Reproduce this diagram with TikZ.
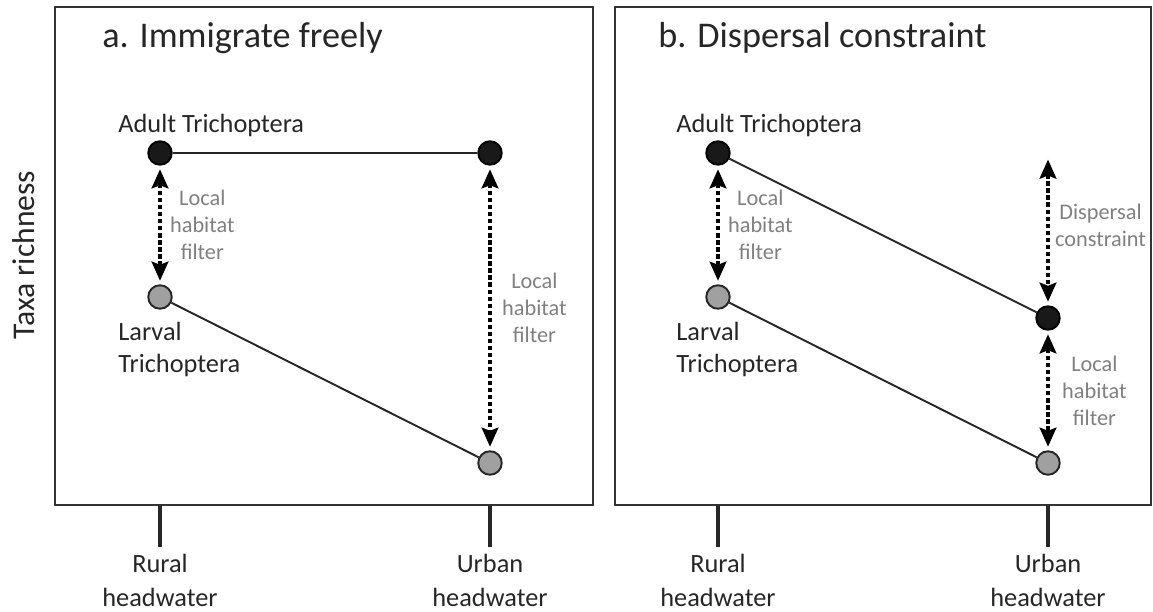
\documentclass[tikz,border=0pt]{standalone}
\usepackage{fontspec}
\setmainfont{Carlito}
\usetikzlibrary{arrows.meta}
\usepackage{xcolor}
\definecolor{labelgray}{HTML}{808080}
\definecolor{dotgray}{HTML}{A0A0A0}

\begin{document}
\begin{tikzpicture}[x=0.02cm, y=-0.02cm,
  % Node Styles
  adultdot/.style={circle, draw=black, line width=1.1pt, fill=black!90, minimum size=0.47cm, inner sep=0pt},
  larvadot/.style={circle, draw=black!85, line width=1.1pt, fill=dotgray, minimum size=0.47cm, inner sep=0pt},
  titletext/.style={anchor=base west, inner sep=0pt, text=black!85, font=\fontsize{20.6}{24}\selectfont},
  grouptext/.style={inner sep=0pt, align=left, text=black!85, font=\fontsize{15}{18}\selectfont},
  filtertext/.style={inner sep=0pt, align=center, text=labelgray, font=\fontsize{12.7}{15.3}\selectfont},
  sitetext/.style={anchor=north, inner sep=0pt, align=center, text=black!85, font=\fontsize{15}{19}\selectfont},
  % Arrow Styles
  solidline/.style={line width=1.1pt, black!85},
  dottedarrow/.style={{Stealth[length=0.38cm, width=0.33cm, inset=0.06cm]}-{Stealth[length=0.38cm, width=0.33cm, inset=0.06cm]}, line width=2.5pt, dash pattern=on 2.4pt off 1.6pt, shorten <=2pt, shorten >=2pt},
  framebox/.style={draw=black!80, line width=1.1pt},
  sitetick/.style={line width=2.2pt, black!85}
]
\useasboundingbox (0,0) rectangle (1153,612);

% Frames and axis
\draw[framebox] (55,7) rectangle (593,505);
\draw[framebox] (615,7) rectangle (1151,505);
\node[rotate=90, inner sep=0pt, text=black!85, font=\fontsize{18}{20}\selectfont] (yaxis) at (24,255) {Taxa richness};

% Panel: a. Immigrate freely

\node[titletext] (title_a) at (102,48) {a. Immigrate freely};
\node[adultdot] (adultR_a) at (160,153) {};
\node[adultdot] (adultU_a) at (490,153) {};
\node[larvadot] (larvaR_a) at (160,297) {};
\node[larvadot] (larvaU_a) at (490,463) {};
\node[grouptext, anchor=base west] (adultlab_a) at (118,132) {Adult Trichoptera};
\node[grouptext, anchor=north west] (larvalab_a) at (118,322) {Larval\\Trichoptera};

\draw[solidline] (adultR_a) -- (adultU_a);
\draw[solidline] (larvaR_a) -- (larvaU_a);
\draw[dottedarrow] (adultR_a) -- node[filtertext, midway, right=4.5pt] {Local\\habitat\\filter} (larvaR_a);
\draw[dottedarrow] (adultU_a) -- node[filtertext, midway, right=5.7pt] {Local\\habitat\\filter} (larvaU_a);

\draw[sitetick] (160,506) -- (160,547);
\draw[sitetick] (490,506) -- (490,547);
\node[sitetext] (rural_a) at (160,554) {Rural\\headwater};
\node[sitetext] (urban_a) at (490,554) {Urban\\headwater};

% Panel: b. Dispersal constraint

\node[titletext] (title_b) at (658,47) {b. Dispersal constraint};
\node[adultdot] (adultR_b) at (718,153) {};
\node[adultdot] (adultU_b) at (1048,318) {};
\node[larvadot] (larvaR_b) at (718,297) {};
\node[larvadot] (larvaU_b) at (1048,463) {};
\coordinate (free_b) at (1048,156);
\node[grouptext, anchor=base west] (adultlab_b) at (676,132) {Adult Trichoptera};
\node[grouptext, anchor=north west] (larvalab_b) at (676,322) {Larval\\Trichoptera};

\draw[solidline] (adultR_b) -- (adultU_b);
\draw[solidline] (larvaR_b) -- (larvaU_b);
\draw[dottedarrow] (adultR_b) -- node[filtertext, midway, right=4.5pt] {Local\\habitat\\filter} (larvaR_b);
\draw[dottedarrow] (free_b) -- node[filtertext, midway, right=2.8pt, yshift=2.8pt] {Dispersal\\constraint} (adultU_b);
\draw[dottedarrow] (adultU_b) -- node[filtertext, midway, right=6.8pt] {Local\\habitat\\filter} (larvaU_b);

\draw[sitetick] (718,506) -- (718,547);
\draw[sitetick] (1048,506) -- (1048,547);
\node[sitetext] (rural_b) at (718,554) {Rural\\headwater};
\node[sitetext] (urban_b) at (1048,554) {Urban\\headwater};

\end{tikzpicture}
\end{document}
